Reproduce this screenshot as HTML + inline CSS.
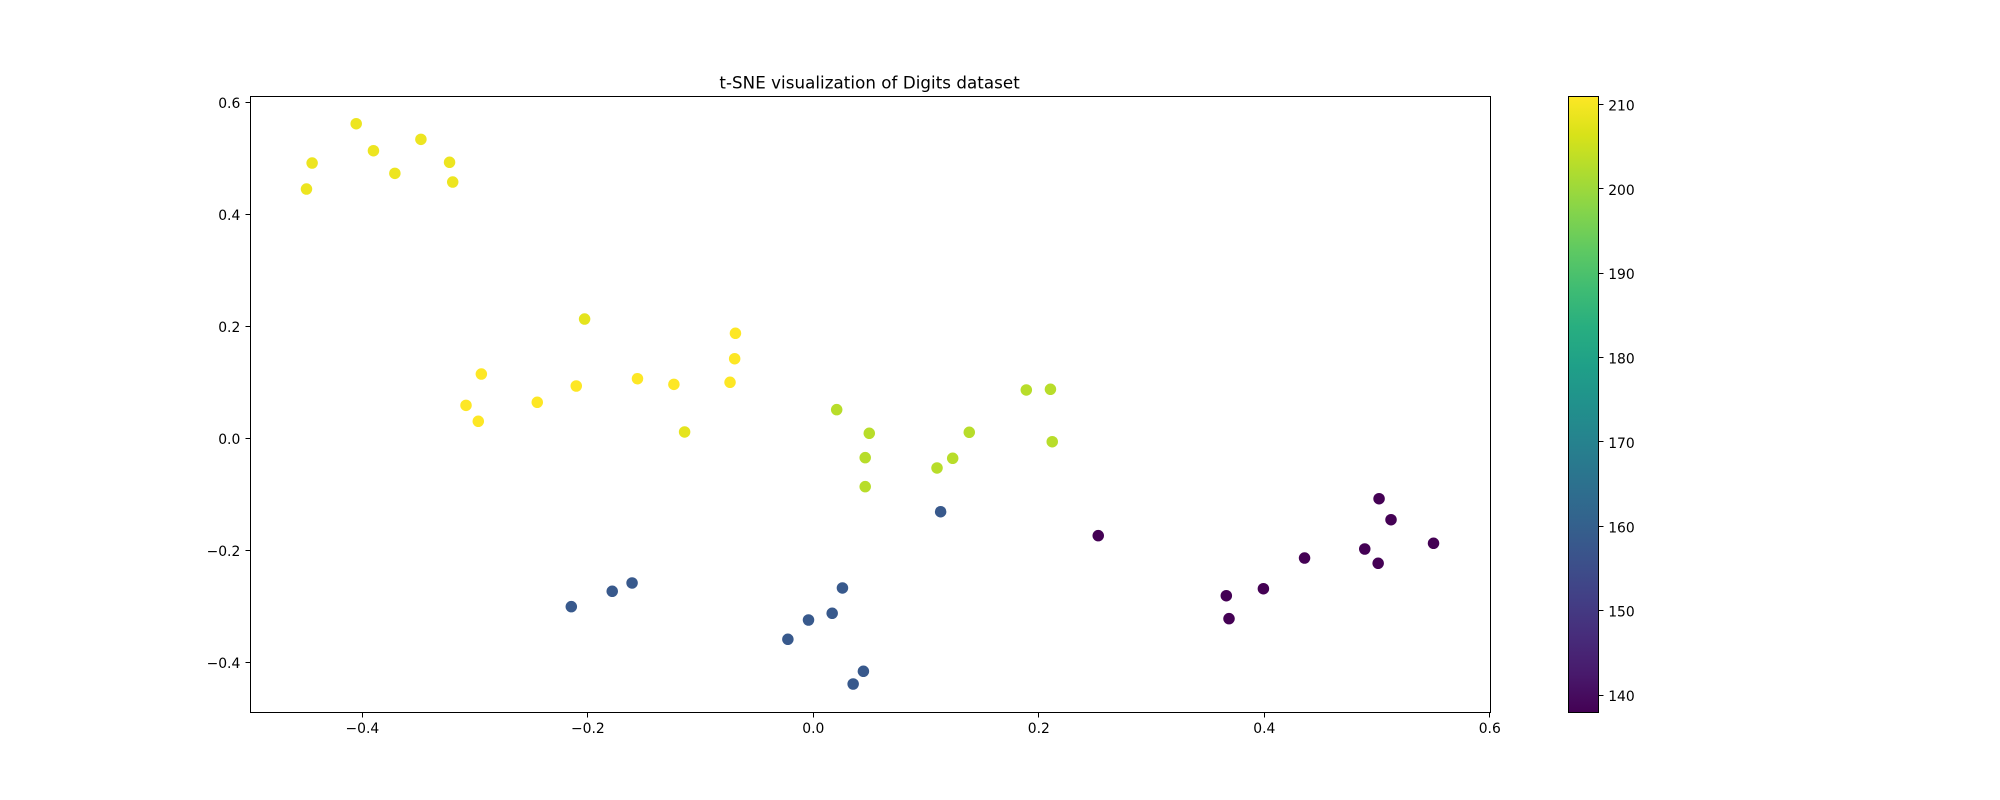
<!DOCTYPE html>
<html lang="en">
<head>
<meta charset="utf-8">
<title>t-SNE visualization of Digits dataset</title>
<style>
  html, body { margin: 0; padding: 0; background: #ffffff; }
  svg { display: block; }
  text { font-family: "DejaVu Sans", "Liberation Sans", sans-serif; fill: #000000; }
</style>
</head>
<body>
<svg id="chart" xmlns="http://www.w3.org/2000/svg" width="2000" height="800" viewBox="0 0 2000 800">
  <rect x="0" y="0" width="2000" height="800" fill="#ffffff"/>
  <text x="869.6" y="88.7" font-size="16.67" letter-spacing="0.06" text-anchor="middle">t-SNE visualization of Digits dataset</text>
  <defs>
    <linearGradient id="viridis-gradient" x1="0" y1="1" x2="0" y2="0"></linearGradient>
  </defs>
  <g id="plot-points"></g>
  <rect x="250.5" y="96.5" width="1240" height="616" fill="none" stroke="#000000" stroke-width="1.1" shape-rendering="crispEdges"/>
  <g id="x-axis"></g>
  <g id="y-axis"></g>
  <rect x="1568.5" y="96.5" width="30" height="616" fill="url(#viridis-gradient)"/>
  <rect x="1568.5" y="96.5" width="30" height="616" fill="none" stroke="#000000" stroke-width="1.1" shape-rendering="crispEdges"/>
  <g id="colorbar-axis"></g>
</svg>
<script>
const xTicks = [-0.4, -0.2, 0.0, 0.2, 0.4, 0.6];
const yTicks = [-0.4, -0.2, 0.0, 0.2, 0.4, 0.6];
const colorbarTicks = [140, 150, 160, 170, 180, 190, 200, 210];
const xDomain = [-0.4997, 0.6002];
const yDomain = [-0.4888, 0.6113];
const colorDomain = [138, 211];

const xValues = [
  -0.4055, -0.4446, -0.4496, -0.3902, -0.3712, -0.3481, -0.3227, -0.3199,
  -0.2029, -0.0691, -0.0698, -0.0739, -0.1237, -0.1560, -0.2103, -0.2945,
  -0.2449, -0.3081, -0.2972, -0.1142,
  0.0207, 0.0496, 0.0460, 0.0460, 0.1097, 0.1236, 0.1383, 0.1889, 0.2103, 0.2119,
  -0.2147, -0.1784, -0.1608, -0.0226, 0.1129, 0.0258, 0.0167, -0.0043, 0.0444, 0.0353,
  0.2527, 0.3663, 0.3687, 0.3992, 0.4357, 0.4891, 0.5010, 0.5018, 0.5124, 0.5501
];
const yValues = [
  0.5618, 0.4916, 0.4452, 0.5136, 0.4732, 0.5339, 0.4929, 0.4577,
  0.2130, 0.1875, 0.1421, 0.1000, 0.0964, 0.1064, 0.0934, 0.1148,
  0.0643, 0.0589, 0.0304, 0.0113,
  0.0511, 0.0089, -0.0346, -0.0864, -0.0530, -0.0357, 0.0107, 0.0863, 0.0875, -0.0061,
  -0.3007, -0.2732, -0.2584, -0.3589, -0.1311, -0.2673, -0.3125, -0.3245, -0.4161, -0.4388,
  -0.1739, -0.2811, -0.3221, -0.2686, -0.2138, -0.1977, -0.2232, -0.1079, -0.1454, -0.1875
];
const colorValues = [
  209, 209, 209, 209, 209, 209, 209, 209,
  208, 211, 211, 211, 211, 211, 211, 211,
  211, 211, 211, 208,
  203, 203, 203, 203, 203, 203, 203, 203, 203, 203,
  158, 158, 158, 158, 158, 158, 158, 158, 158, 158,
  138, 138, 138, 138, 138, 138, 138, 138, 138, 138
];
const viridisStops = [
  "#440154", "#481a6c", "#472d7b", "#424086", "#3b528b", "#33638d", "#2c728e", "#26828e",
  "#21918c", "#1fa088", "#28ae80", "#3fbc73", "#5ec962", "#84d44b", "#addc30", "#d8e219", "#fde725"
];

const SVG_NS = "http://www.w3.org/2000/svg";
const plotLeft = 250, plotRight = 1490, plotTop = 96, plotBottom = 712;
const barRight = 1598.5;
const tickLength = 5;
const pointRadius = 5.75;

function xScale(v) {
  return plotLeft + (v - xDomain[0]) / (xDomain[1] - xDomain[0]) * (plotRight - plotLeft);
}
function yScale(v) {
  return plotBottom - (v - yDomain[0]) / (yDomain[1] - yDomain[0]) * (plotBottom - plotTop);
}
function colorbarScale(v) {
  return plotBottom - (v - colorDomain[0]) / (colorDomain[1] - colorDomain[0]) * (plotBottom - plotTop);
}
function hexToRgb(hex) {
  return [1, 3, 5].map(function (i) { return parseInt(hex.slice(i, i + 2), 16); });
}
function viridis(value) {
  const t = Math.min(1, Math.max(0, (value - colorDomain[0]) / (colorDomain[1] - colorDomain[0])));
  const pos = t * (viridisStops.length - 1);
  const i = Math.min(viridisStops.length - 2, Math.floor(pos));
  const f = pos - i;
  const a = hexToRgb(viridisStops[i]);
  const b = hexToRgb(viridisStops[i + 1]);
  return "rgb(" + a.map(function (c, k) { return Math.round(c + (b[k] - c) * f); }).join(",") + ")";
}
function formatTick(v) {
  return (v < 0 ? "\u2212" : "") + Math.abs(v).toFixed(1);
}
function snap(p) {
  return Math.floor(p) + 0.5;
}
function tickLine(x1, y1, x2, y2) {
  const line = document.createElementNS(SVG_NS, "line");
  line.setAttribute("x1", x1);
  line.setAttribute("y1", y1);
  line.setAttribute("x2", x2);
  line.setAttribute("y2", y2);
  line.setAttribute("stroke", "#000000");
  line.setAttribute("stroke-width", "1.1");
  line.setAttribute("shape-rendering", "crispEdges");
  return line;
}
function tickText(x, y, anchor, content) {
  const label = document.createElementNS(SVG_NS, "text");
  label.setAttribute("x", x);
  label.setAttribute("y", y);
  label.setAttribute("font-size", "13.89");
  label.setAttribute("text-anchor", anchor);
  label.textContent = content;
  return label;
}

const gradient = document.getElementById("viridis-gradient");
viridisStops.forEach(function (color, i) {
  const stop = document.createElementNS(SVG_NS, "stop");
  stop.setAttribute("offset", i / (viridisStops.length - 1));
  stop.setAttribute("stop-color", color);
  gradient.appendChild(stop);
});

const pointsGroup = document.getElementById("plot-points");
xValues.forEach(function (xv, i) {
  const dot = document.createElementNS(SVG_NS, "circle");
  
  
  dot.setAttribute("cx", xScale(xv).toFixed(2));
  dot.setAttribute("cy", yScale(yValues[i]).toFixed(2));
  dot.setAttribute("r", pointRadius);
  dot.setAttribute("fill", viridis(colorValues[i]));
  pointsGroup.appendChild(dot);
});

const xAxis = document.getElementById("x-axis");
xTicks.forEach(function (v) {
  const px = snap(xScale(v));
  const mark = tickLine(px, plotBottom + 0.5, px, plotBottom + 0.5 + tickLength);
  
  
  xAxis.appendChild(mark);
  const label = tickText(xScale(v), 733, "middle", formatTick(v));
  
  
  xAxis.appendChild(label);
});

const yAxis = document.getElementById("y-axis");
yTicks.forEach(function (v) {
  const py = snap(yScale(v));
  const mark = tickLine(plotLeft + 0.5 - tickLength, py, plotLeft + 0.5, py);
  
  
  yAxis.appendChild(mark);
  const label = tickText(240.3, yScale(v) + 5.5, "end", formatTick(v));
  
  
  yAxis.appendChild(label);
});

const colorbarAxis = document.getElementById("colorbar-axis");
colorbarTicks.forEach(function (v) {
  const py = snap(colorbarScale(v));
  const mark = tickLine(barRight, py, barRight + tickLength, py);
  
  
  colorbarAxis.appendChild(mark);
  const label = tickText(1608.2, colorbarScale(v) + 6, "start", String(v));
  
  
  colorbarAxis.appendChild(label);
});
</script>
</body>
</html>
